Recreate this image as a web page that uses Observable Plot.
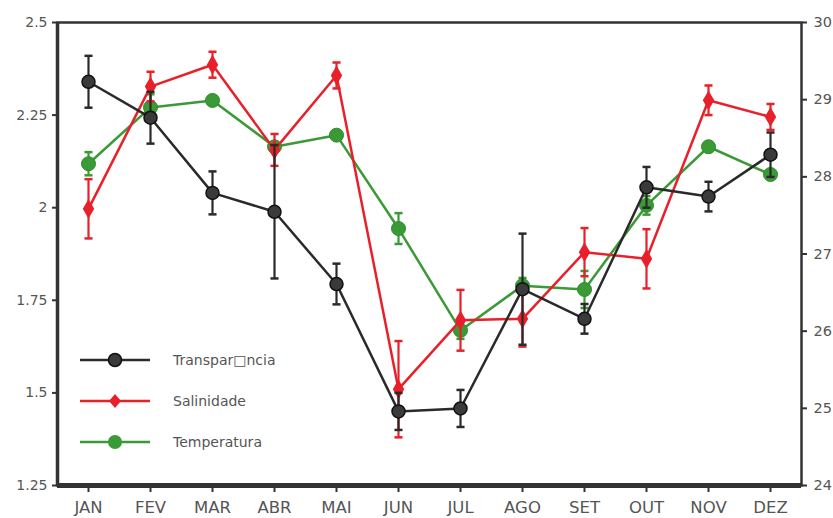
<!DOCTYPE html>
<html>
<head>
<meta charset="utf-8">
<script src="https://cdn.jsdelivr.net/npm/d3@7"></script>
<script src="https://cdn.jsdelivr.net/npm/@observablehq/plot@0.6"></script>
<style>
  html, body { margin: 0; padding: 0; background: #fff; }
  #wrap { position: relative; width: 833px; height: 518px; font-family: "DejaVu Sans", sans-serif; overflow: hidden; }
  #legend { position: absolute; left: 78px; top: 339px; }
  .li { display: flex; align-items: center; height: 41px; }
  .li span { font-size: 14px; color: #555; margin-left: 21px; }
</style>
</head>
<body>
<div id="wrap"></div>
<script>
// ---- data ----
const months = ["JAN","FEV","MAR","ABR","MAI","JUN","JUL","AGO","SET","OUT","NOV","DEZ"];
// Transparência (left axis)
const transp    = [2.34, 2.243, 2.04, 1.989, 1.794, 1.45, 1.458, 1.78, 1.70, 2.055, 2.03, 2.143];
const transpErr = [0.07, 0.07, 0.058, 0.18, 0.055, 0.05, 0.05, 0.15, 0.04, 0.055, 0.04, 0.06];
// Salinidade (plotted in left-axis units; its own axis is cropped out)
const salin     = [1.997, 2.327, 2.386, 2.156, 2.357, 1.51, 1.696, 1.70, 1.88, 1.862, 2.29, 2.245];
const salinErr  = [0.08, 0.04, 0.035, 0.043, 0.035, 0.13, 0.082, 0.075, 0.065, 0.08, 0.04, 0.035];
// Temperatura (right axis, °C)
const temp      = [28.17, 28.90, 28.99, 28.39, 28.54, 27.33, 26.01, 26.59, 26.54, 27.63, 28.39, 28.03];
const tempErr   = [0.15, 0.17, 0.04, 0.06, 0.05, 0.2, 0.11, 0.1, 0.24, 0.12, 0.05, 0.05];
// axis ticks
const leftTicks  = [1.25, 1.5, 1.75, 2, 2.25, 2.5];
const rightTicks = [24, 25, 26, 27, 28, 29, 30];
const seriesNames = ["Transpar\u25a1ncia", "Salinidade", "Temperatura"];
const colors = { black: "#2a2a2a", red: "#e8202a", green: "#3a9a36" };

// ---- map right axis (24–30) onto left axis (1.25–2.5) ----
const toLeft = d3.scaleLinear().domain([24, 30]).range([1.25, 2.5]);

const mk = (vals, errs, conv = v => v) => vals.map((v, i) => ({
  i, v: conv(v), lo: conv(v - errs[i]), hi: conv(v + errs[i])
}));
const T = mk(transp, transpErr);
const S = mk(salin, salinErr);
const G = mk(temp, tempErr, toLeft);

const cw = 0.065;
function errMarks(data, color) {
  return [
    Plot.ruleX(data, { x: "i", y1: "lo", y2: "hi", stroke: color, strokeWidth: 2.2 }),
    Plot.link(data, { x1: d => d.i - cw, x2: d => d.i + cw, y1: "hi", y2: "hi", stroke: color, strokeWidth: 2.5 }),
    Plot.link(data, { x1: d => d.i - cw, x2: d => d.i + cw, y1: "lo", y2: "lo", stroke: color, strokeWidth: 2.5 })
  ];
}

const chart = Plot.plot({
  width: 833,
  height: 518,
  marginLeft: 57,
  marginRight: 32,
  marginTop: 22,
  marginBottom: 33,
  style: { fontFamily: "'DejaVu Sans', sans-serif", background: "#fff", overflow: "visible" },
  x: { type: "linear", domain: [-0.5, 11.5] },
  y: { domain: [1.25, 2.5] },
  marks: [
    // axes
    Plot.axisY(leftTicks, { anchor: "left", tickFormat: d => String(d), tickSize: 5, tickPadding: 5,
      fontSize: 14, stroke: "#333", strokeWidth: 2, fill: "#555", label: null }),
    Plot.axisY(rightTicks.map(toLeft), { anchor: "right", tickFormat: v => String(Math.round(toLeft.invert(v))),
      tickSize: 5, tickPadding: 7, fontSize: 14.5, stroke: "#333", strokeWidth: 2, fill: "#555", label: null }),
    Plot.axisX(d3.range(12), { anchor: "bottom", tickFormat: i => months[i], tickSize: 7, tickPadding: 9,
      fontSize: 16.5, stroke: "#333", strokeWidth: 2, fill: "#555", label: null }),
    // frame
    Plot.frame({ stroke: "#333", strokeWidth: 2.5 }),
    Plot.ruleX([-0.5], { stroke: "#333", strokeWidth: 3.5 }),
    Plot.ruleY([1.25], { stroke: "#333", strokeWidth: 5 }),
    // Temperatura (green)
    ...errMarks(G, colors.green),
    Plot.line(G, { x: "i", y: "v", stroke: colors.green, strokeWidth: 2.5 }),
    Plot.dot(G, { x: "i", y: "v", r: 7, fill: colors.green, stroke: "#2f8a2c", strokeWidth: 1 }),
    // Salinidade (red)
    ...errMarks(S, colors.red),
    Plot.line(S, { x: "i", y: "v", stroke: colors.red, strokeWidth: 2.5 }),
    Plot.dot(S, { x: "i", y: "v", symbol: "diamond", r: 6, fill: colors.red }),
    // Transparência (black)
    ...errMarks(T, colors.black),
    Plot.line(T, { x: "i", y: "v", stroke: colors.black, strokeWidth: 2.5 }),
    Plot.dot(T, { x: "i", y: "v", r: 6.5, fill: "#3a3a3a", stroke: "#111", strokeWidth: 1.5 })
  ]
});

const wrap = document.getElementById("wrap");
wrap.appendChild(chart);

// legend (inside the plot area, lower left)
const legend = document.createElement("div");
legend.id = "legend";
const legendItems = [
  { name: seriesNames[0], color: colors.black, marker: `<circle cx="37" cy="12" r="6.5" fill="#3a3a3a" stroke="#111" stroke-width="1.5"/>` },
  { name: seriesNames[1], color: colors.red, marker: `<path d="M37 5 L43 12 L37 19 L31 12 Z" fill="${colors.red}"/>` },
  { name: seriesNames[2], color: colors.green, marker: `<circle cx="37" cy="12" r="7" fill="${colors.green}"/>` }
];
legend.innerHTML = legendItems.map(it =>
  `<div class="li"><svg width="74" height="24"><line x1="2" x2="72" y1="12" y2="12" stroke="${it.color}" stroke-width="2.5"/>${it.marker}</svg><span>${it.name}</span></div>`
).join("");
wrap.appendChild(legend);
</script>
</body>
</html>
